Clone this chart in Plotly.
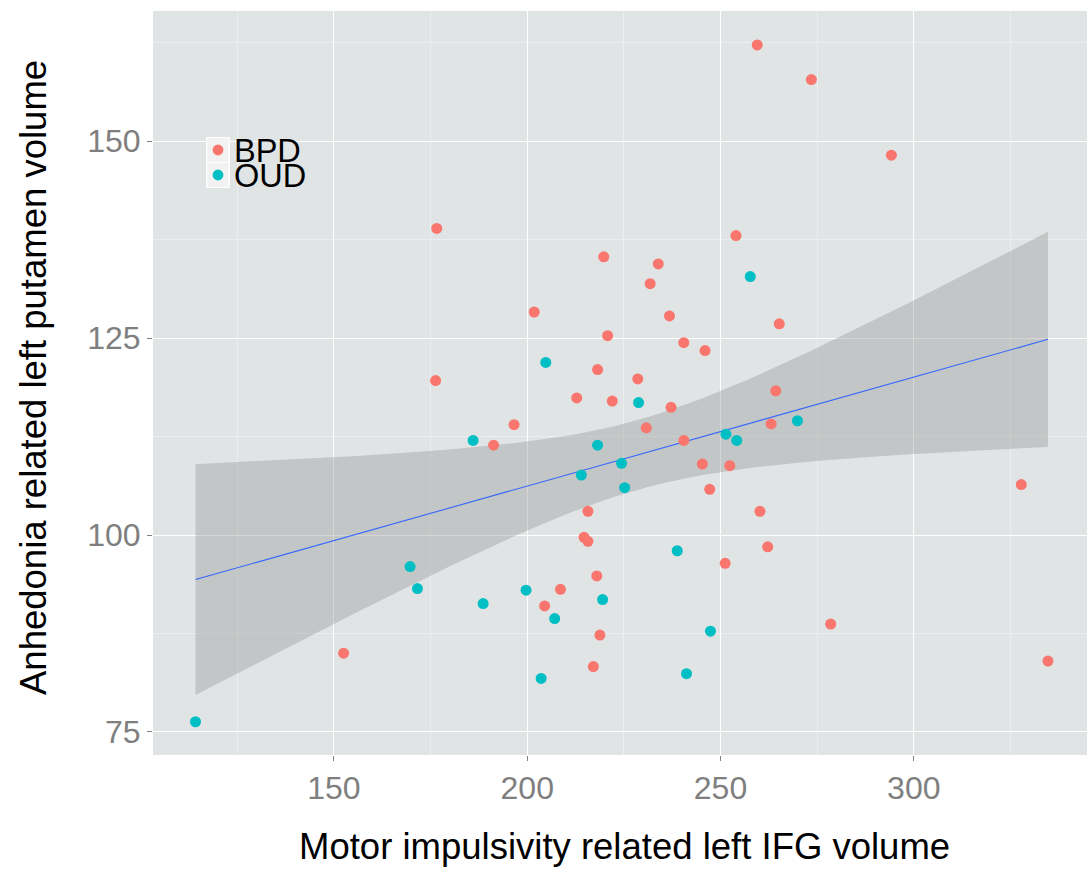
import numpy as np
import plotly.graph_objects as go

# ---------------- data ----------------
bpd_x = [176.6, 259.5, 273.5, 294.2, 254.0, 219.8, 233.9, 231.8, 201.8, 176.3,
         196.6, 191.3, 236.8, 265.2, 220.8, 240.5, 246.0, 218.2, 228.6, 212.8,
         222.0, 237.2, 264.3, 230.8, 263.1, 240.5, 245.3, 252.4, 247.2, 327.8,
         215.7, 260.2, 214.7, 215.7, 262.2, 251.2, 218.0, 208.6, 218.8, 278.5,
         217.1, 334.7, 204.5, 152.5]
bpd_y = [138.9, 162.2, 157.8, 148.2, 138.0, 135.3, 134.4, 131.9, 128.3, 119.6,
         114.0, 111.4, 127.8, 126.8, 125.3, 124.4, 123.4, 121.0, 119.8, 117.4,
         117.0, 116.2, 118.3, 113.6, 114.1, 112.0, 109.0, 108.8, 105.8, 106.4,
         103.0, 103.0, 99.7, 99.2, 98.5, 96.4, 94.8, 93.1, 87.3, 88.7,
         83.3, 84.0, 91.0, 85.0]

oud_x = [257.7, 204.8, 186.0, 228.8, 269.9, 251.4, 254.2, 218.2, 224.4, 214.0,
         225.2, 238.8, 219.5, 207.1, 247.4, 241.2, 169.7, 171.6, 188.6, 199.7,
         203.6, 114.2]
oud_y = [132.8, 121.9, 112.0, 116.8, 114.5, 112.8, 112.0, 111.4, 109.1, 107.6,
         106.0, 98.0, 91.8, 89.4, 87.8, 82.4, 96.0, 93.2, 91.3, 93.0,
         81.8, 76.3]

groups = ["BPD", "OUD"]
group_colors = ["#F8766D", "#00BFC4"]

x_ticks = [150, 200, 250, 300]
y_ticks = [75, 100, 125, 150]

x_title = "Motor impulsivity related left IFG volume"
y_title = "Anhedonia related left putamen volume"

# ---------------- linear fit with 95% CI (like geom_smooth(method='lm')) ----
all_x = np.array(bpd_x + oud_x, dtype=float)
all_y = np.array(bpd_y + oud_y, dtype=float)
n = len(all_x)
slope, intercept = np.polyfit(all_x, all_y, 1)
resid = all_y - (slope * all_x + intercept)
df = n - 2
s = np.sqrt(np.sum(resid ** 2) / df)
xbar = all_x.mean()
sxx = np.sum((all_x - xbar) ** 2)
z = 1.959963985
tq = z + (z ** 3 + z) / (4 * df) + (5 * z ** 5 + 16 * z ** 3 + 3 * z) / (96 * df ** 2)

xg = np.linspace(all_x.min(), all_x.max(), 80)
yg = slope * xg + intercept
se = s * np.sqrt(1.0 / n + (xg - xbar) ** 2 / sxx)
upper = yg + tq * se
lower = yg - tq * se

# ---------------- figure ----------------
FONT = "Liberation Sans, Arial, Helvetica, sans-serif"
W, H = 1087, 870
L, R, T, B = 153, 0, 11, 115
pw, ph = W - L - R, H - T - B

fig = go.Figure()

fig.add_trace(go.Scatter(
    x=np.concatenate([xg, xg[::-1]]),
    y=np.concatenate([upper, lower[::-1]]),
    fill="toself", fillcolor="rgba(153,153,153,0.4)",
    line=dict(width=0), mode="lines", hoverinfo="skip", showlegend=False))

fig.add_trace(go.Scatter(
    x=xg, y=yg, mode="lines", line=dict(color="#3366FF", width=1.1),
    hoverinfo="skip", showlegend=False))

for name, xs, ys, col in [("BPD", bpd_x, bpd_y, group_colors[0]),
                          ("OUD", oud_x, oud_y, group_colors[1])]:
    fig.add_trace(go.Scatter(
        x=xs, y=ys, mode="markers", name=name,
        marker=dict(color=col, size=11, line=dict(width=0)),
        showlegend=False))

axis_common = dict(
    showline=False, zeroline=False,
    ticks="outside", ticklen=5, tickwidth=1, tickcolor="#7F7F7F",
    gridcolor="#FFFFFF", gridwidth=1.3,
    tickfont=dict(family=FONT, size=32, color="#7F7F7F"),
    minor=dict(showgrid=True, gridcolor="#EBEEEE", gridwidth=0.8, ticks=""),
)

fig.update_layout(
    width=W, height=H,
    margin=dict(l=L, r=R, t=T, b=B, pad=0),
    paper_bgcolor="white", plot_bgcolor="#E0E4E4",
    showlegend=False,
    xaxis=dict(range=[103.2, 344.8], tickvals=x_ticks,
               ticktext=[str(v) for v in x_ticks], **axis_common),
    yaxis=dict(range=[72.08, 166.5], tickvals=y_ticks,
               ticktext=[str(v) for v in y_ticks], **axis_common),
)
fig.update_xaxes(minor=dict(tickvals=[125, 175, 225, 275, 325]))
fig.update_yaxes(minor=dict(tickvals=[87.5, 112.5, 137.5, 162.5]))


def px2paper(px, py):
    return (px - L) / pw, (H - B - py) / ph


# axis titles
xt, yt = px2paper(624, 846)
fig.add_annotation(text=x_title, x=xt, y=yt, xref="paper", yref="paper",
                   xanchor="center", yanchor="middle", showarrow=False,
                   font=dict(family=FONT, size=36.5, color="black"))
xt, yt = px2paper(33, 378)
fig.add_annotation(text=y_title, x=xt, y=yt, xref="paper", yref="paper",
                   xanchor="center", yanchor="middle", showarrow=False,
                   textangle=-90,
                   font=dict(family=FONT, size=36.5, color="black"))

# legend (drawn inside the panel, top-left)
key_left, key_right = 206.7, 229.3
key_tops = [137.5, 162.5]
key_h = 25.0
for i, (g, col) in enumerate(zip(groups, group_colors)):
    x0, y1 = px2paper(key_left, key_tops[i])
    x1, y0 = px2paper(key_right, key_tops[i] + key_h)
    fig.add_shape(type="rect", xref="paper", yref="paper",
                  x0=x0, x1=x1, y0=y0, y1=y1,
                  fillcolor="#F2F2F2", line=dict(color="white", width=1.2))
    cx, cy = (key_left + key_right) / 2, key_tops[i] + key_h / 2
    a0, b1 = px2paper(cx - 5.4, cy - 5.4)
    a1, b0 = px2paper(cx + 5.4, cy + 5.4)
    fig.add_shape(type="circle", xref="paper", yref="paper",
                  x0=a0, x1=a1, y0=b0, y1=b1,
                  fillcolor=col, line=dict(width=0))
    tx, ty = px2paper(231.5, cy + 1)
    fig.add_annotation(text=g, x=tx, y=ty, xref="paper", yref="paper",
                       xanchor="left", yanchor="middle", showarrow=False,
                       font=dict(family=FONT, size=32.5, color="black"))

fig.write_html("out.html")
